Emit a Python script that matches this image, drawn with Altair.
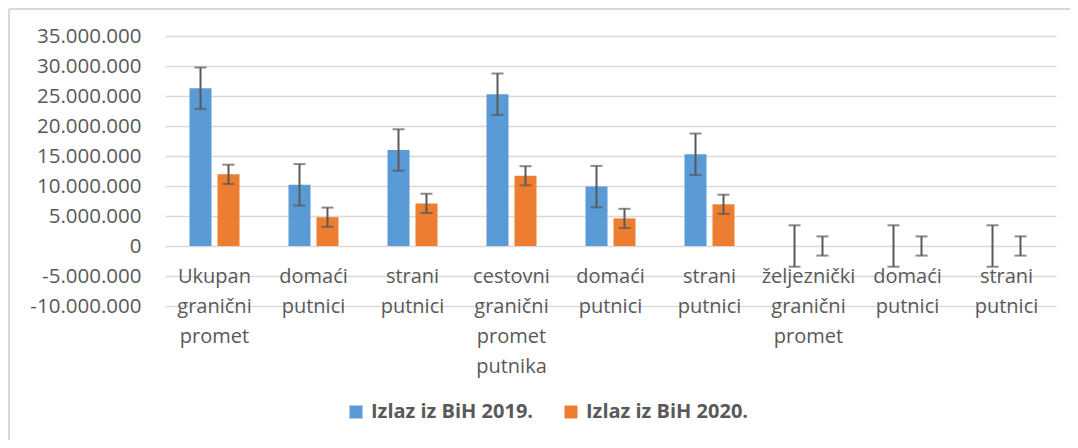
import json
import altair as alt
import pandas as pd

categories = [
    "Ukupan granični promet",
    "domaći putnici",
    "strani putnici",
    "cestovni granični promet putnika",
    "domaći putnici",
    "strani putnici",
    "željeznički granični promet",
    "domaći putnici",
    "strani putnici",
]
series = ["Izlaz iz BiH 2019.", "Izlaz iz BiH 2020."]
values_2019 = [26300000, 10200000, 16000000, 25300000, 9900000, 15300000, 0, 0, 0]
values_2020 = [11950000, 4800000, 7100000, 11700000, 4600000, 6950000, 0, 0, 0]
errors = [3450000, 1600000]  # constant error-bar size per series
y_ticks = [-10000000, -5000000, 0, 5000000, 10000000, 15000000, 20000000, 25000000, 30000000, 35000000]

rows = []
for s_i, (name, vals) in enumerate(zip(series, [values_2019, values_2020])):
    for i, v in enumerate(vals):
        rows.append({"idx": i, "series": name, "value": v,
                     "lo": v - errors[s_i], "hi": v + errors[s_i]})
df = pd.DataFrame(rows)

colors = ["#5B9BD5", "#ED7D31"]
grey = "#595959"
frame_grey = "#d9d9d9"

x_enc = alt.X(
    "idx:O",
    scale=alt.Scale(paddingInner=0.495, paddingOuter=0.2475),
    axis=alt.Axis(
        title=None,
        labelAngle=0,
        domain=False,
        ticks=False,
        grid=False,
        offset=-60,
        labelPadding=20,
        labelFontSize=20,
        labelLineHeight=30,
        labelBaseline="top",
        labelOverlap=False,
        labelExpr="split(" + json.dumps(categories, ensure_ascii=False) + "[datum.value], ' ')",
    ),
)
xoff = alt.XOffset("series:N", scale=alt.Scale(domain=series, paddingInner=0.214, paddingOuter=0))
y_scale = alt.Scale(domain=[-10000000, 35000000], nice=False, zero=False)
y_axis = alt.Axis(
    title=None,
    values=y_ticks,
    ticks=False,
    domain=False,
    labelPadding=24,
    labelFontSize=20.5,
    labelOverlap=False,
    gridColor="#d9d9d9",
    gridWidth=1.5,
    labelExpr="(datum.value < 0 ? '-' : '') + replace(replace(format(abs(datum.value), ','), ',', '.'), ',', '.')",
)

base = alt.Chart(df)

bars = base.mark_bar().encode(
    x=x_enc,
    xOffset=xoff,
    y=alt.Y("value:Q", scale=y_scale, axis=y_axis),
    color=alt.Color(
        "series:N",
        scale=alt.Scale(domain=series, range=colors),
        legend=alt.Legend(
            title=None,
            orient="none",
            legendX=181,
            legendY=366,
            direction="horizontal",
            symbolType="square",
            symbolSize=169,
            symbolStrokeWidth=0,
            labelFontSize=20,
            labelFontWeight="bold",
            labelColor=grey,
            labelOffset=5,
            labelLimit=400,
            columnPadding=27,
        ),
    ),
)

rules = base.mark_rule(color=grey, strokeWidth=2).encode(
    x=x_enc, xOffset=xoff, y=alt.Y("lo:Q", scale=y_scale, axis=y_axis), y2="hi:Q"
)
caps_hi = base.mark_tick(color=grey, size=12, thickness=2).encode(
    x=x_enc, xOffset=xoff, y=alt.Y("hi:Q", scale=y_scale, axis=y_axis)
)
caps_lo = base.mark_tick(color=grey, size=12, thickness=2).encode(
    x=x_enc, xOffset=xoff, y=alt.Y("lo:Q", scale=y_scale, axis=y_axis)
)

# decorative outer chart frame (left and top edges, as in the reference)
frame_left = alt.Chart(df).mark_rule(color=frame_grey, strokeWidth=2).encode(
    x=alt.value(-156), y=alt.value(-27), y2=alt.value(430)
)
frame_top = alt.Chart(df).mark_rule(color=frame_grey, strokeWidth=2).encode(
    x=alt.value(-156), x2=alt.value(940), y=alt.value(-27)
)

chart = (
    alt.layer(bars, rules, caps_hi, caps_lo, frame_left, frame_top)
    .properties(
        width=891,
        height=270,
        autosize=alt.AutoSizeParams(type="none"),
        padding={"left": 157, "top": 28, "right": 14, "bottom": 134},
    )
    .configure(font="Open Sans")
    .configure_axis(labelColor=grey, labelFont="Open Sans")
    .configure_view(stroke=None)
)

chart.save("out.html", embed_options={"renderer": "svg", "actions": False})
